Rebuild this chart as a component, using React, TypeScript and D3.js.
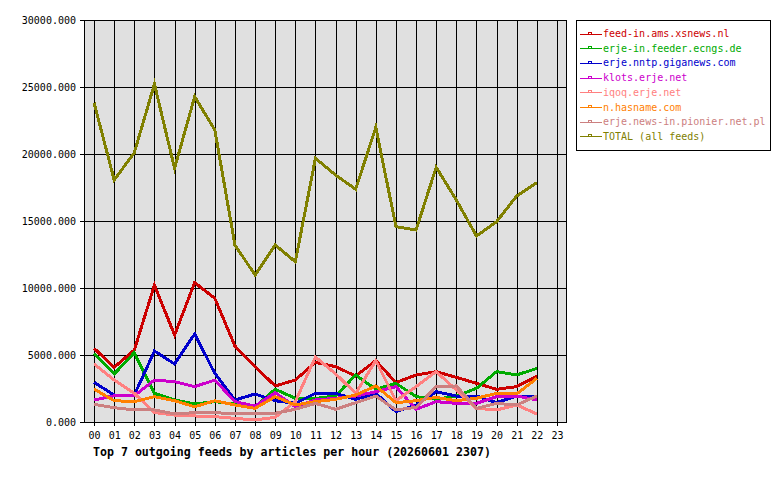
import React, { useEffect, useRef } from 'react';
import * as d3 from 'd3';

const hours = d3.range(0, 24);
const hourLabels = hours.map(h => (h < 10 ? '0' + h : '' + h));
const yTicks = [0, 5000, 10000, 15000, 20000, 25000, 30000];

const feedNames = [
  'feed-in.ams.xsnews.nl',
  'erje-in.feeder.ecngs.de',
  'erje.nntp.giganews.com',
  'klots.erje.net',
  'iqoq.erje.net',
  'n.hasname.com',
  'erje.news-in.pionier.net.pl',
  'TOTAL (all feeds)',
];
const feedColors = ['#cc0000', '#00aa00', '#0000cc', '#cc00cc', '#ff8080', '#ff8000', '#cc8080', '#808000'];

// articles per hour, 00..22
const xsnews = [5500, 4080, 5370, 10220, 6490, 10400, 9230, 5670, 4130, 2690, 3130, 4450, 4130, 3430, 4580, 2940, 3510, 3760, 3330, 2890, 2440, 2640, 3430];
const ecngs = [5130, 3580, 5170, 2140, 1640, 1340, 1520, 1340, 1140, 2440, 1770, 1750, 1950, 3510, 2440, 2890, 1890, 1700, 1940, 2510, 3760, 3510, 4000];
const giganews = [2960, 2010, 2010, 5300, 4330, 6570, 3630, 1640, 2090, 1590, 1390, 2140, 2140, 1690, 2140, 770, 1270, 2260, 1940, 1940, 1440, 1940, 1940];
const klots = [1640, 1960, 1960, 3130, 3010, 2640, 3130, 1520, 1190, 2190, 1140, 1640, 1770, 1940, 2260, 2640, 950, 1520, 1390, 1390, 1890, 1940, 1640];
const iqoq = [4330, 3130, 2140, 700, 520, 450, 400, 270, 150, 350, 1520, 4850, 3600, 2140, 4580, 1590, 2640, 3760, 2390, 1020, 900, 1270, 600];
const hasname = [2460, 1590, 1520, 1890, 1590, 1140, 1590, 1270, 1020, 1890, 1270, 1520, 1690, 2010, 2690, 1440, 1590, 1840, 1590, 1770, 2140, 2090, 3260];
const pionier = [1320, 1070, 900, 900, 600, 700, 700, 600, 600, 650, 950, 1390, 950, 1440, 1940, 900, 1090, 2640, 2690, 1020, 1390, 1270, 1940];
const total = [23830, 18060, 20100, 25220, 18930, 24280, 21790, 13210, 10970, 13210, 11960, 19680, 18430, 17370, 21990, 14580, 14330, 19010, 16570, 13880, 14950, 16870, 17860];

const seriesValues = [xsnews, ecngs, giganews, klots, iqoq, hasname, pionier, total];

const title = 'Top 7 outgoing feeds by articles per hour (20260601 2307)';

export default function App() {
  const ref = useRef<SVGSVGElement>(null);

  useEffect(() => {
    document.body.style.margin = '0';
    const svg = d3.select(ref.current);
    svg.selectAll('*').remove();

    const left = 84, right = 567, top = 20, bottom = 422;
    const x = d3.scaleLinear().domain([-0.5, 23.5]).range([left, right]);
    const y = d3.scaleLinear().domain([0, 30000]).range([bottom, top]);
    const font = "'DejaVu Sans Mono', monospace";

    svg.append('rect').attr('width', 780).attr('height', 480).attr('fill', '#fff');

    // plot background
    svg.append('rect')
      .attr('x', left).attr('y', top)
      .attr('width', right - left).attr('height', bottom - top)
      .attr('fill', '#e0e0e0');

    const grid = svg.append('g').attr('stroke', '#000').attr('stroke-width', 1).attr('shape-rendering', 'crispEdges');

    // vertical grid + ticks
    hours.forEach(h => {
      const px = Math.round(x(h)) + 0.5;
      grid.append('line').attr('x1', px).attr('x2', px).attr('y1', top).attr('y2', bottom + 4);
    });
    // horizontal grid + ticks
    yTicks.forEach(v => {
      const py = Math.round(y(v)) + 0.5;
      grid.append('line').attr('x1', left - 4).attr('x2', right).attr('y1', py).attr('y2', py);
    });
    // frame
    grid.append('rect')
      .attr('x', left + 0.5).attr('y', top + 0.5)
      .attr('width', right - left - 1).attr('height', bottom - top)
      .attr('fill', 'none');

    // y labels
    svg.append('g').selectAll('text').data(yTicks).join('text')
      .attr('x', 76).attr('y', d => y(d) + 3.5)
      .attr('text-anchor', 'end')
      .attr('font-family', font).attr('font-size', 10)
      .text(d => d3.format('.3f')(d));

    // x labels
    svg.append('g').selectAll('text').data(hours).join('text')
      .attr('x', d => x(d) + 0.5).attr('y', 439)
      .attr('text-anchor', 'middle')
      .attr('font-family', font).attr('font-size', 10)
      .text((d, i) => hourLabels[i]);

    // title
    svg.append('text')
      .attr('x', 93).attr('y', 456)
      .attr('font-family', font).attr('font-size', 11.6).attr('font-weight', 'bold')
      .text(title);

    // series
    const line = d3.line<number>().x((d, i) => x(i)).y(d => y(d));
    seriesValues.forEach((vals, i) => {
      svg.append('path')
        .datum(vals)
        .attr('fill', 'none')
        .attr('stroke', feedColors[i])
        .attr('stroke-width', 3)
        .attr('stroke-linejoin', 'miter')
        .attr('shape-rendering', 'crispEdges')
        .attr('d', line);
    });

    // legend
    const lg = svg.append('g');
    lg.append('rect')
      .attr('x', 576.5).attr('y', 20.5).attr('width', 194).attr('height', 130)
      .attr('fill', '#fff').attr('stroke', '#000').attr('shape-rendering', 'crispEdges');
    feedNames.forEach((name, i) => {
      const ly = 33.5 + i * 14.7;
      const row = lg.append('g').attr('stroke', feedColors[i]).attr('shape-rendering', 'crispEdges');
      const yy = Math.round(ly) + 0.5;
      row.append('line').attr('x1', 580).attr('x2', 602).attr('y1', yy).attr('y2', yy);
      row.append('rect').attr('x', 588.5).attr('y', yy - 2).attr('width', 3).attr('height', 2).attr('fill', 'none');
      lg.append('text')
        .attr('x', 603).attr('y', ly + 3.5)
        .attr('font-family', font).attr('font-size', 10)
        .attr('fill', feedColors[i])
        .text(name);
    });
  }, []);

  return <svg ref={ref} width={780} height={480} style={{ display: 'block' }} />;
}
